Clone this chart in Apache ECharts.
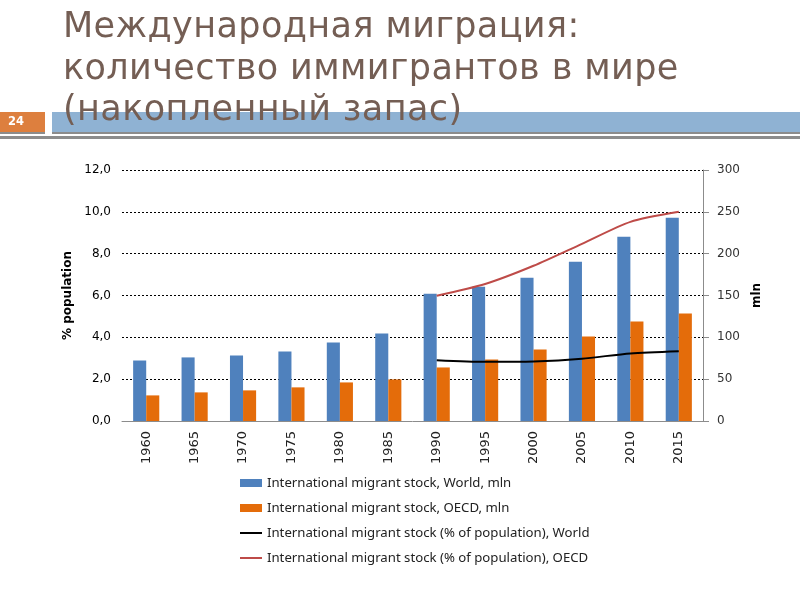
<!DOCTYPE html>
<html>
<head>
<meta charset="utf-8">
<script src="https://cdn.jsdelivr.net/npm/echarts@6/dist/echarts.min.js"></script>
<style>
html,body{margin:0;padding:0;background:#fff}
#wrap{position:relative;width:800px;height:600px}
#c{position:absolute;left:0;top:0;width:800px;height:600px}
#t{position:absolute;left:63px;top:5px;z-index:5;font-family:"DejaVu Sans";font-size:35px;line-height:41.5px;letter-spacing:0.4px;color:#745E54;white-space:nowrap;pointer-events:none}
</style>
</head>
<body>
<div id="wrap">
<div id="c"></div>
<div id="t"></div>
</div>
<script>
var titleLines = ['Международная миграция:', 'количество иммигрантов в мире', '(накопленный запас)'];
var slideNumber = '24';
var years = ['1960','1965','1970','1975','1980','1985','1990','1995','2000','2005','2010','2015'];
var worldMln = [72.3, 76.0, 78.3, 83.0, 93.8, 104.5, 152.2, 160.5, 171.3, 190.3, 220.1, 242.8];
var oecdMln = [30.6, 34.2, 36.6, 40.2, 46.1, 49.7, 64.0, 73.5, 85.5, 101.0, 118.8, 128.4];
var worldPct = [null, null, null, null, null, null, 2.91, 2.83, 2.85, 2.98, 3.23, 3.34];
var oecdPct = [null, null, null, null, null, null, 5.99, 6.55, 7.42, 8.47, 9.52, 10.0];
var seriesNames = [
  'International migrant stock, World, mln',
  'International migrant stock, OECD, mln',
  'International migrant stock (% of population), World',
  'International migrant stock (% of population), OECD'
];

var t = document.getElementById('t');
titleLines.forEach(function (s) { var d = document.createElement('div'); d.textContent = s; t.appendChild(d); });

var lineIcon = 'path://M0,0L22,0L22,2L0,2Z';
var chart = echarts.init(document.getElementById('c'), null, {renderer: 'canvas'});
chart.setOption({
  animation: false,
  backgroundColor: '#ffffff',
  graphic: [
    {type: 'rect', shape: {x: 0, y: 112, width: 45, height: 20}, style: {fill: '#DD7F3E'}},
    {type: 'rect', shape: {x: 0, y: 132, width: 45, height: 2}, style: {fill: '#8C8C8C'}},
    {type: 'text', left: 8, top: 116, style: {text: slideNumber, fill: '#ffffff', font: 'bold 11.5px "DejaVu Sans"'}},
    {type: 'rect', shape: {x: 52, y: 112, width: 748, height: 20}, style: {fill: '#8FB2D3'}},
    {type: 'rect', shape: {x: 52, y: 132, width: 748, height: 2}, style: {fill: '#8C8C8C'}},
    {type: 'rect', shape: {x: 0, y: 136, width: 800, height: 3}, style: {fill: '#8C8C8C'}}
  ],
  grid: {left: 122, right: 97, top: 170, bottom: 179, containLabel: false},
  legend: {
    orient: 'vertical', left: 235, top: 471, itemGap: 11, itemWidth: 22, itemHeight: 8,
    data: [
      {name: seriesNames[0], icon: 'rect'},
      {name: seriesNames[1], icon: 'rect'},
      {name: seriesNames[2], icon: lineIcon},
      {name: seriesNames[3], icon: lineIcon}
    ],
    textStyle: {fontFamily: 'Noto Sans', fontSize: 13.2, color: '#222', lineHeight: 14}
  },
  xAxis: {
    type: 'category', data: years,
    axisLine: {lineStyle: {color: '#8C8C8C'}},
    axisTick: {length: 5, lineStyle: {color: '#8C8C8C'}},
    axisLabel: {rotate: 90, fontFamily: 'DejaVu Sans', fontSize: 13, color: '#222', margin: 10}
  },
  yAxis: [
    {
      type: 'value', min: 0, max: 12, interval: 2, position: 'left',
      name: '% population', nameLocation: 'middle', nameGap: 37, nameRotate: 90,
      nameTextStyle: {fontFamily: 'DejaVu Sans', fontWeight: 'bold', fontSize: 12, color: '#000'},
      axisLine: {show: false}, axisTick: {show: false},
      axisLabel: {formatter: function (v) { return v.toFixed(1).replace('.', ','); }, fontFamily: 'DejaVu Sans', fontSize: 12, color: '#000', margin: 11},
      splitLine: {lineStyle: {color: '#000', type: [2, 2], width: 1}}
    },
    {
      type: 'value', min: 0, max: 300, interval: 50, position: 'right',
      name: 'mln', nameLocation: 'middle', nameGap: 48, nameRotate: 90,
      nameTextStyle: {fontFamily: 'DejaVu Sans', fontWeight: 'bold', fontSize: 12, color: '#000'},
      axisLine: {show: true, lineStyle: {color: '#8C8C8C'}},
      axisTick: {show: true, inside: false, length: 6, lineStyle: {color: '#8C8C8C'}},
      axisLabel: {fontFamily: 'DejaVu Sans', fontSize: 12, color: '#333', margin: 14},
      splitLine: {show: false}
    }
  ],
  series: [
    {name: seriesNames[0], type: 'bar', yAxisIndex: 1, data: worldMln, barGap: '0%', barCategoryGap: '46%', itemStyle: {color: '#4F81BD'}},
    {name: seriesNames[1], type: 'bar', yAxisIndex: 1, data: oecdMln, barGap: '0%', barCategoryGap: '46%', itemStyle: {color: '#E46C0A'}},
    {name: seriesNames[2], type: 'line', yAxisIndex: 0, data: worldPct, symbol: 'none', smooth: 0.25, lineStyle: {color: '#000000', width: 2}, itemStyle: {color: '#000000'}},
    {name: seriesNames[3], type: 'line', yAxisIndex: 0, data: oecdPct, symbol: 'none', smooth: 0.25, lineStyle: {color: '#BE4B48', width: 2}, itemStyle: {color: '#BE4B48'}}
  ]
});
</script>
</body>
</html>
